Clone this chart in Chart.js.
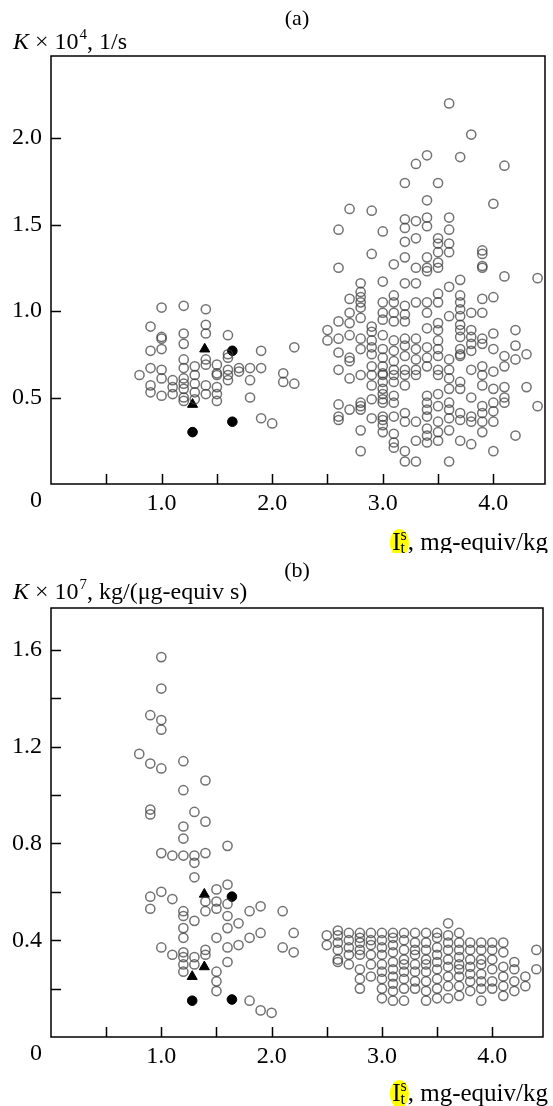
<!DOCTYPE html>
<html>
<head>
<meta charset="utf-8">
<script src="https://cdn.jsdelivr.net/npm/chart.js@4"></script>
<style>
body { margin: 0; background: #fff; }
.panel { position: absolute; left: 0; width: 553px; height: 553px; }
</style>
</head>
<body>
<div class="panel" style="top:0"><canvas id="chartA" width="553" height="553"></canvas></div>
<div class="panel" style="top:553px"><canvas id="chartB" width="553" height="553"></canvas></div>
<script>
// panel (a): K x 10^4, 1/s  -- open circles grouped by column of Its
var aColsX = [0.8, 0.9, 1.0, 1.1, 1.2, 1.3, 1.4, 1.5, 1.6, 1.7, 1.8, 1.9, 2.0, 2.1, 2.2,
    2.5, 2.6, 2.7, 2.8, 2.9, 3.0, 3.1, 3.2, 3.3, 3.4, 3.5, 3.6, 3.7, 3.8, 3.9, 4.0, 4.1, 4.2, 4.3, 4.4];
var aColsY = [
    [0.63],
    [0.91, 0.77, 0.67, 0.57, 0.53],
    [1.02, 0.85, 0.84, 0.78, 0.66, 0.61, 0.51],
    [0.60, 0.56, 0.52],
    [1.03, 0.87, 0.81, 0.72, 0.67, 0.61, 0.58, 0.55, 0.50, 0.48],
    [0.68, 0.63, 0.58, 0.53, 0.49],
    [1.01, 0.92, 0.87, 0.72, 0.69, 0.57, 0.52],
    [0.69, 0.64, 0.63, 0.56, 0.52, 0.48],
    [0.86, 0.75, 0.73, 0.66, 0.63, 0.60],
    [0.67, 0.65],
    [0.67, 0.60, 0.50],
    [0.77, 0.67, 0.38],
    [0.35],
    [0.64, 0.59],
    [0.79, 0.58],
    [0.89, 0.83],
    [1.47, 1.25, 0.94, 0.84, 0.76, 0.66, 0.46, 0.39, 0.37],
    [1.59, 1.07, 0.99, 0.93, 0.86, 0.73, 0.71, 0.61, 0.43],
    [1.16, 1.11, 1.08, 1.05, 1.02, 0.96, 0.84, 0.78, 0.63, 0.47, 0.45, 0.43, 0.31, 0.19],
    [1.58, 1.33, 0.91, 0.88, 0.83, 0.79, 0.75, 0.68, 0.63, 0.57, 0.49, 0.38],
    [1.46, 1.17, 1.05, 0.99, 0.95, 0.86, 0.78, 0.73, 0.68, 0.64, 0.63, 0.59, 0.55, 0.52, 0.49, 0.47, 0.39, 0.37, 0.34, 0.30],
    [1.27, 1.09, 1.05, 0.99, 0.94, 0.83, 0.77, 0.71, 0.66, 0.63, 0.59, 0.51, 0.47, 0.39, 0.29, 0.24, 0.21],
    [1.74, 1.53, 1.48, 1.40, 1.31, 1.16, 1.03, 0.98, 0.94, 0.84, 0.80, 0.74, 0.66, 0.63, 0.57, 0.41, 0.36, 0.19, 0.13],
    [1.85, 1.52, 1.42, 1.25, 1.16, 1.05, 0.84, 0.78, 0.72, 0.66, 0.63, 0.36, 0.25, 0.13],
    [1.90, 1.64, 1.54, 1.49, 1.31, 1.25, 1.23, 1.05, 0.99, 0.90, 0.79, 0.73, 0.68, 0.51, 0.47, 0.43, 0.39, 0.32, 0.28, 0.24],
    [1.74, 1.42, 1.39, 1.34, 1.28, 1.25, 1.10, 1.05, 0.93, 0.89, 0.83, 0.78, 0.74, 0.66, 0.63, 0.52, 0.45, 0.36, 0.30, 0.25],
    [2.20, 1.54, 1.47, 1.39, 1.34, 1.14, 0.97, 0.72, 0.66, 0.61, 0.55, 0.47, 0.43, 0.38, 0.31, 0.13],
    [1.89, 1.18, 1.09, 1.05, 1.01, 0.97, 0.92, 0.89, 0.85, 0.78, 0.75, 0.74, 0.59, 0.55, 0.41, 0.37, 0.25],
    [2.02, 0.99, 0.89, 0.85, 0.81, 0.77, 0.66, 0.50, 0.39, 0.36, 0.23],
    [1.35, 1.33, 1.26, 1.25, 1.07, 0.99, 0.84, 0.81, 0.68, 0.63, 0.57, 0.45, 0.41, 0.36, 0.30],
    [1.62, 1.08, 0.87, 0.78, 0.65, 0.55, 0.47, 0.42, 0.36, 0.19],
    [1.84, 1.20, 0.74, 0.68, 0.56, 0.50, 0.47],
    [0.89, 0.80, 0.72, 0.28],
    [0.75, 0.56],
    [1.19, 0.45]
];
var aDotX = [1.28, 1.64, 1.64];
var aDotY = [0.30, 0.36, 0.77];
var aTriX = [1.39, 1.28];
var aTriY = [0.78, 0.46];

// panel (b): K x 10^7, kg/(ug-equiv s)
var bColsX = aColsX;
var bColsY = [
    [1.17],
    [1.33, 1.13, 0.94, 0.92, 0.58, 0.53],
    [1.57, 1.44, 1.31, 1.27, 1.11, 0.76, 0.60, 0.37],
    [0.75, 0.57, 0.34],
    [1.14, 1.02, 0.87, 0.82, 0.75, 0.52, 0.50, 0.45, 0.41, 0.35, 0.33, 0.30, 0.27],
    [0.93, 0.75, 0.72, 0.66, 0.48, 0.33, 0.30],
    [1.06, 0.89, 0.76, 0.56, 0.52, 0.36, 0.34],
    [0.61, 0.56, 0.53, 0.41, 0.27, 0.23, 0.19],
    [0.79, 0.63, 0.55, 0.50, 0.45, 0.37, 0.31],
    [0.47, 0.38],
    [0.52, 0.41, 0.15],
    [0.54, 0.43, 0.11],
    [0.10],
    [0.52, 0.37],
    [0.43, 0.35],
    [0.42, 0.38],
    [0.44, 0.42, 0.39, 0.36, 0.32, 0.31],
    [0.43, 0.40, 0.37, 0.34, 0.30],
    [0.43, 0.41, 0.39, 0.36, 0.34, 0.28, 0.24, 0.20],
    [0.43, 0.40, 0.38, 0.34, 0.30, 0.25],
    [0.43, 0.40, 0.37, 0.34, 0.30, 0.27, 0.24, 0.20, 0.16],
    [0.43, 0.41, 0.38, 0.35, 0.31, 0.28, 0.25, 0.22, 0.19, 0.15],
    [0.43, 0.40, 0.36, 0.32, 0.30, 0.27, 0.24, 0.20, 0.15],
    [0.43, 0.39, 0.36, 0.34, 0.30, 0.27, 0.23, 0.20],
    [0.43, 0.39, 0.36, 0.32, 0.30, 0.27, 0.23, 0.19, 0.15],
    [0.43, 0.41, 0.37, 0.34, 0.31, 0.28, 0.24, 0.20, 0.16],
    [0.47, 0.42, 0.39, 0.36, 0.32, 0.29, 0.25, 0.21, 0.16],
    [0.43, 0.39, 0.36, 0.33, 0.30, 0.28, 0.25, 0.21, 0.17],
    [0.39, 0.36, 0.32, 0.29, 0.26, 0.23, 0.19],
    [0.39, 0.36, 0.32, 0.30, 0.26, 0.23, 0.20, 0.15],
    [0.39, 0.36, 0.32, 0.28, 0.23, 0.20],
    [0.39, 0.35, 0.29, 0.25, 0.21, 0.17],
    [0.31, 0.28, 0.23, 0.19],
    [0.25, 0.21],
    [0.36, 0.28]
];
var bDotX = [1.28, 1.64, 1.64];
var bDotY = [0.15, 0.155, 0.58];
var bTriX = [1.39, 1.39, 1.28];
var bTriY = [0.59, 0.29, 0.25];

Chart.defaults.font.family = '"Liberation Serif", "DejaVu Serif", serif';
Chart.defaults.color = '#000';

function colsToPoints(xs, ys) {
    var pts = [];
    for (var i = 0; i < xs.length; i++) {
        for (var j = 0; j < ys[i].length; j++) {
            pts.push({x: xs[i], y: ys[i][j]});
        }
    }
    return pts;
}

function pairsToPoints(xs, ys) {
    return xs.map(function (x, i) { return {x: x, y: ys[i]}; });
}

function onStep(v, step) {
    return Math.abs(v / step - Math.round(v / step)) < 1e-6;
}

// frame, inward ticks and the texts that are not part of the axes
var framePlugin = {
    id: 'frame',
    afterDraw: function (chart, args, opts) {
        var ctx = chart.ctx;
        var a = chart.chartArea;
        var sx = chart.scales.x, sy = chart.scales.y;
        ctx.save();
        ctx.strokeStyle = '#000';
        ctx.lineWidth = 1.5;
        ctx.strokeRect(a.left, a.top, a.right - a.left, a.bottom - a.top);
        ctx.beginPath();
        sx.ticks.forEach(function (t) {
            if (t.value <= 0) return;
            var px = Math.round(sx.getPixelForValue(t.value)) + 0.5;
            ctx.moveTo(px, a.bottom);
            ctx.lineTo(px, a.bottom - 10);
        });
        sy.ticks.forEach(function (t) {
            if (t.value <= 0) return;
            var py = Math.round(sy.getPixelForValue(t.value)) + 0.5;
            ctx.moveTo(a.left, py);
            ctx.lineTo(a.left + 10, py);
        });
        ctx.stroke();

        ctx.fillStyle = '#000';
        // "0" at the corner
        ctx.font = '24px "Liberation Serif"';
        ctx.textAlign = 'center';
        ctx.textBaseline = 'top';
        ctx.fillText('0', a.left - 15, a.bottom + 5);

        // panel letter
        ctx.font = '22px "Liberation Serif"';
        ctx.textBaseline = 'alphabetic';
        ctx.fillText(opts.letter, 297, opts.letterY);

        // y title
        ctx.textAlign = 'left';
        var x0 = 13, yb = opts.yTitleY;
        ctx.font = 'italic 24px "Liberation Serif"';
        ctx.fillText('K', x0, yb);
        x0 += ctx.measureText('K').width;
        ctx.font = '24px "Liberation Serif"';
        ctx.fillText(' \u00d7 10', x0, yb);
        x0 += ctx.measureText(' \u00d7 10').width;
        ctx.font = '15px "Liberation Serif"';
        ctx.fillText(opts.power, x0 + 1, yb - 10);
        x0 += ctx.measureText(opts.power).width + 1;
        ctx.font = '24px "Liberation Serif"';
        ctx.fillText(opts.yUnit, x0, yb);

        // x title, right aligned, with highlighted I
        ctx.font = '25px "Liberation Serif"';
        var rest = ', mg-equiv/kg';
        var wI = ctx.measureText('I').width;
        var wR = ctx.measureText(rest).width;
        ctx.font = '16px "Liberation Serif"';
        var wS = ctx.measureText('s').width;
        var xs = 548 - wR - wS - wI - 1;
        var xb = opts.xTitleY;
        ctx.fillStyle = '#ffff00';
        ctx.beginPath();
        ctx.ellipse(xs + wI / 2 + 3, xb - 7, 9.5, 14, 0, 0, Math.PI * 2);
        ctx.fill();
        ctx.fillStyle = '#000';
        ctx.font = '25px "Liberation Serif"';
        ctx.fillText('I', xs, xb);
        ctx.font = '16px "Liberation Serif"';
        ctx.fillText('s', xs + wI, xb - 10);
        ctx.fillText('t', xs + wI, xb + 3);
        ctx.font = '25px "Liberation Serif"';
        ctx.fillText(rest, xs + wI + wS + 1, xb);
        ctx.restore();
    }
};

function makeChart(id, cols, colVals, dotX, dotY, triX, triY, yMax, yStep, yLabelStep, xMax, rightPad, topPad, frameOpts) {
    return new Chart(document.getElementById(id), {
        type: 'scatter',
        data: {
            datasets: [{
                data: colsToPoints(cols, colVals),
                pointStyle: 'circle',
                pointRadius: 4.6,
                borderWidth: 1.5,
                borderColor: 'rgba(60,60,60,0.72)',
                backgroundColor: 'rgba(0,0,0,0)'
            }, {
                data: pairsToPoints(dotX, dotY),
                pointStyle: 'circle',
                pointRadius: 4.8,
                borderWidth: 1,
                borderColor: '#000',
                backgroundColor: '#000'
            }, {
                data: pairsToPoints(triX, triY),
                pointStyle: 'triangle',
                pointRadius: 5.8,
                borderWidth: 1,
                borderColor: '#000',
                backgroundColor: '#000'
            }]
        },
        options: {
            responsive: false,
            animation: false,
            events: [],
            layout: {padding: {left: 0, right: rightPad, top: topPad, bottom: 0}},
            plugins: {legend: {display: false}, tooltip: {enabled: false}, frame: frameOpts},
            scales: {
                x: {
                    type: 'linear', min: 0, max: xMax,
                    grid: {display: false, drawTicks: false},
                    border: {display: false},
                    afterFit: function (s) { s.height = 69; },
                    afterBuildTicks: function (s) {
                        s.ticks = s.ticks.filter(function (t) { return onStep(t.value, 0.5); });
                    },
                    ticks: {
                        stepSize: 0.5, padding: 5, maxRotation: 0, autoSkip: false, includeBounds: false,
                        font: {size: 24},
                        callback: function (v) { return (v > 0 && onStep(v, 1)) ? v.toFixed(1) : ''; }
                    }
                },
                y: {
                    type: 'linear', min: 0, max: yMax,
                    grid: {display: false, drawTicks: false},
                    border: {display: false},
                    afterFit: function (s) { s.width = 51; },
                    afterBuildTicks: function (s) {
                        s.ticks = s.ticks.filter(function (t) { return onStep(t.value, yStep); });
                    },
                    ticks: {
                        stepSize: yStep, padding: 9, autoSkip: false, includeBounds: false,
                        font: {size: 24},
                        callback: function (v) { return (v > 0 && onStep(v, yLabelStep)) ? v.toFixed(1) : ''; }
                    }
                }
            }
        },
        plugins: [framePlugin]
    });
}

makeChart('chartA', aColsX, aColsY, aDotX, aDotY, aTriX, aTriY, 2.474, 0.5, 0.5, 4.467, 8, 56,
    {letter: '(a)', letterY: 25, power: '4', yUnit: ', 1/s', yTitleY: 49, xTitleY: 550});
makeChart('chartB', bColsX, bColsY, bDotX, bDotY, bTriX, bTriY, 1.773, 0.2, 0.4, 4.46, 10, 55,
    {letter: '(b)', letterY: 24, power: '7', yUnit: ', kg/(\u03bcg-equiv s)', yTitleY: 46, xTitleY: 548});
</script>
</body>
</html>
